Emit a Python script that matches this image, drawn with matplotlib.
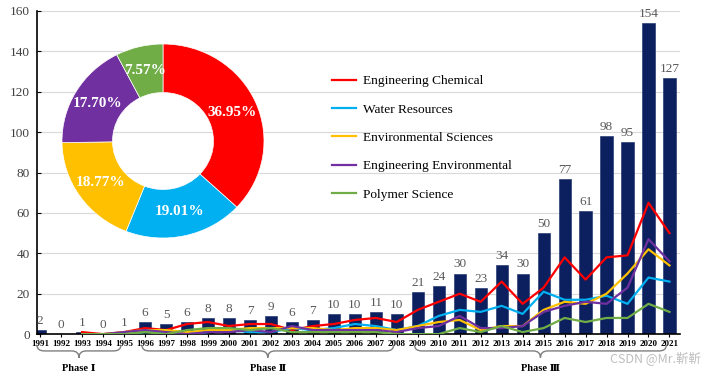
import matplotlib.pyplot as plt
from matplotlib.path import Path
from matplotlib.patches import PathPatch
import matplotlib.transforms as mtransforms

plt.rcParams['font.family'] = ['Liberation Serif', 'DejaVu Serif']

years = list(range(1991, 2022))
totals = [2, 0, 1, 0, 1, 6, 5, 6, 8, 8, 7, 9, 6, 7, 10, 10, 11, 10,
          21, 24, 30, 23, 34, 30, 50, 77, 61, 98, 95, 154, 127]

# subject series start in 1993
line_years = list(range(1993, 2022))
eng_chem = [1, 0, 1, 3, 2, 5, 6, 4, 5, 5, 2, 4, 5, 7, 8, 6,
            12, 16, 20, 16, 26, 15, 23, 38, 27, 38, 39, 65, 50]
water = [0, 0, 0, 1, 1, 0, 1, 2, 1, 1, 3, 2, 3, 5, 4, 2,
         4, 9, 12, 11, 14, 10, 21, 17, 17, 19, 15, 28, 26]
env_sci = [0, 0, 1, 2, 2, 1, 2, 2, 3, 3, 3, 3, 2, 3, 3, 2,
           4, 6, 7, 2, 4, 4, 12, 16, 15, 20, 30, 42, 34]
eng_env = [0, 0, 1, 2, 1, 0, 1, 1, 2, 1, 4, 2, 2, 2, 2, 1,
           3, 4, 9, 3, 3, 4, 11, 14, 16, 15, 23, 47, 36]
polymer = [0, 0, 0, 1, 0, 2, 3, 3, 2, 3, 1, 1, 1, 1, 1, 0,
           0, 0, 3, 1, 4, 1, 3, 8, 6, 8, 8, 15, 11]

series_names = ['Engineering Chemical', 'Water Resources', 'Environmental Sciences',
                'Engineering Environmental', 'Polymer Science']
series_vals = [eng_chem, water, env_sci, eng_env, polymer]
colors = ['#ff0000', '#00b0f0', '#ffc000', '#7030a0', '#70ad47']

shares = [36.95, 19.01, 18.77, 17.70, 7.57]

phases = ['Phase Ⅰ', 'Phase Ⅱ', 'Phase Ⅲ']
phase_ranges = [(1991, 1995), (1996, 2008), (2009, 2021)]

fig = plt.figure(figsize=(7.12, 3.75), dpi=100)
ax = fig.add_axes([0.052, 0.109, 0.903, 0.862])

x = list(range(len(years)))
bars = ax.bar(x, totals, width=0.58, color='#0c1f5e', edgecolor='#2a3d75', linewidth=0.5, zorder=2)
for xi, v in zip(x, totals):
    ax.text(xi, v + 1.5, str(v), ha='center', va='bottom', fontsize=9.5, color='#595959', zorder=4)

off = years.index(line_years[0])
lx = [off + i for i in range(len(line_years))]
for name, vals, c in zip(series_names, series_vals, colors):
    ax.plot(lx, vals, color=c, lw=1.6, label=name, zorder=3)

ax.set_xlim(-0.15, 30.5)
ax.set_ylim(0, 160)
ax.set_yticks(range(0, 161, 20))
ax.yaxis.grid(True, color='#d9d9d9', lw=0.8, zorder=0)
ax.set_axisbelow(True)
ax.set_xticks(x)
ax.set_xticklabels(years, fontsize=6.5, fontweight='bold')
ax.tick_params(axis='x', direction='out', length=2.5, pad=1.5, width=0.8)
ax.tick_params(axis='y', direction='in', length=3, labelsize=9.5, labelcolor='#404040', pad=5)
for s in ['top', 'right']:
    ax.spines[s].set_visible(False)
ax.spines['left'].set_linewidth(1.2)
ax.spines['bottom'].set_linewidth(1.2)

leg = ax.legend(loc='upper left', bbox_to_anchor=(0.450, 0.832), bbox_transform=fig.transFigure,
                frameon=False, fontsize=9.6, handlelength=1.8, labelspacing=1.2, handletextpad=0.5)

# phase braces under the axis
trans = mtransforms.blended_transform_factory(ax.transData, ax.transAxes)
for label, (y0, y1) in zip(phases, phase_ranges):
    x0 = years.index(y0) - 0.15
    x1 = years.index(y1) - 0.15
    xm = (x0 + x1) / 2
    top, hz, tip = -0.034, -0.052, -0.073
    d = 0.35
    verts = [(x0, top), (x0, hz), (x0 + d, hz),
             (xm - d, hz), (xm, hz), (xm, tip),
             (xm, hz), (xm + d, hz),
             (x1 - d, hz), (x1, hz), (x1, top)]
    codes = [Path.MOVETO, Path.CURVE3, Path.CURVE3,
             Path.LINETO, Path.CURVE3, Path.CURVE3,
             Path.CURVE3, Path.CURVE3,
             Path.LINETO, Path.CURVE3, Path.CURVE3]
    ax.add_patch(PathPatch(Path(verts, codes), transform=trans, fill=False,
                           edgecolor='#7f7f7f', lw=1.0, clip_on=False))
    ax.text(xm, -0.105, label, transform=trans, ha='center', va='center',
            fontsize=7.5, fontweight='bold')

# donut of subject shares
pax = fig.add_axes([62 / 712, 1 - 238 / 375, 202 / 712, 194 / 375])
wedges, texts, autotexts = pax.pie(shares, colors=colors, startangle=90, counterclock=False,
                                   autopct='%.2f%%', pctdistance=0.75,
                                   wedgeprops=dict(width=0.5, edgecolor='white', linewidth=0.5))
for t in autotexts:
    t.set_color('white')
    t.set_fontsize(11)
    t.set_fontweight('bold')
pax.set_aspect('auto')
pax.set_xlim(-1.0, 1.0)
pax.set_ylim(-1.0, 1.0)

fig.text(0.985, 0.045, 'CSDN @Mr.靳靳', ha='right', va='center', fontsize=9,
         color='#bfbfbf', family=['Noto Sans CJK SC', 'DejaVu Sans'])

fig.savefig('out.png', dpi=100)
